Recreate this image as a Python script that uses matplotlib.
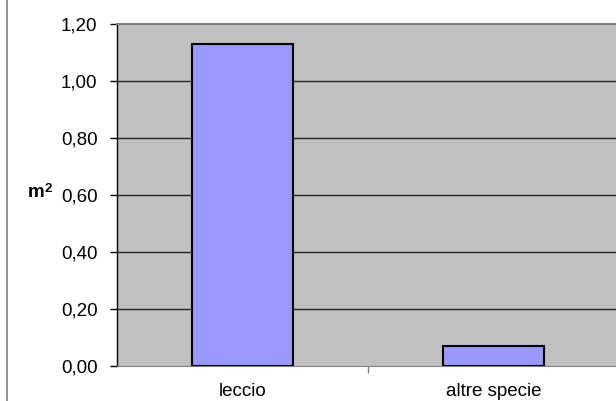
import matplotlib
matplotlib.use('Agg')
import matplotlib.pyplot as plt
from matplotlib.lines import Line2D

plt.rcParams['font.family'] = ['Liberation Sans', 'DejaVu Sans']

# dati
categorie = ['leccio', 'altre specie']
valori = [1.13, 0.07]
yticks = [0.0, 0.2, 0.4, 0.6, 0.8, 1.0, 1.2]
ylabels = ['0,00', '0,20', '0,40', '0,60', '0,80', '1,00', '1,20']

fig = plt.figure(figsize=(6.16, 4.01), dpi=100)
ax = fig.add_axes([117 / 616, 35 / 401, 499 / 616, 342 / 401])
ax.set_facecolor('#c0c0c0')

x = list(range(len(categorie)))
ax.bar(x, valori, width=0.40, color='#9999ff', edgecolor='black', linewidth=1.5, zorder=3)

ax.set_ylim(0, 1.2)
ax.set_xlim(-0.5, 1.488)
ax.set_yticks(yticks)
ax.set_yticklabels(ylabels, fontsize=13.5)
for y in yticks[1:-1]:
    ax.axhline(y, color='#222222', linewidth=1, zorder=1)

ax.set_xticks(x)
ax.set_xticklabels(categorie, fontsize=13.5)
ax.tick_params(axis='x', length=0, pad=12)
ax.set_xticks([0.5], minor=True)
ax.tick_params(axis='x', which='minor', length=5, color='#808080', width=1)
ax.tick_params(axis='y', length=5, color='black', width=1, pad=9)

for s in ['top', 'bottom']:
    ax.spines[s].set_color('#808080')
ax.spines['top'].set_linewidth(1.5)
ax.spines['left'].set_color('black')
ax.spines['left'].set_linewidth(1)
ax.spines['right'].set_visible(False)

# etichetta asse y: m con apice 2
fig.text(44 / 616, (401 - 197) / 401, 'm', fontsize=13.5,
         fontweight='bold', ha='right', va='baseline')
fig.text(44.5 / 616, (401 - 192) / 401, '2', fontsize=9.5,
         fontweight='bold', ha='left', va='baseline')

fig.add_artist(Line2D([6.5 / 616, 6.5 / 616], [0, 1], color='#808080', linewidth=1.2,
                      transform=fig.transFigure))

fig.savefig('out.png', dpi=100)
